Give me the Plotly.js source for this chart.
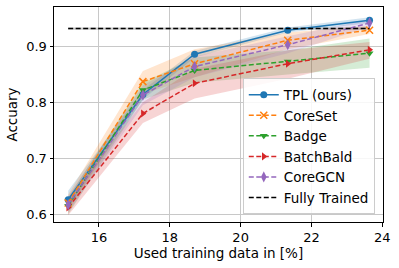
<!DOCTYPE html>
<html><head><meta charset="utf-8">
<script src="https://cdn.plot.ly/plotly-3.0.1.min.js"></script>
<style>html,body{margin:0;padding:0;background:#fff}#chart{width:399px;height:268px}</style>
</head><body><div id="chart"></div>
<script>
const xPct = [15.13, 17.24, 18.70, 21.33, 23.64];

const tplMean = [0.626, 0.814, 0.886, 0.929, 0.947];
const tplLo   = [0.612, 0.805, 0.880, 0.925, 0.942];
const tplHi   = [0.642, 0.822, 0.892, 0.934, 0.952];

const coresetMean = [0.620, 0.837, 0.869, 0.911, 0.929];
const coresetLo   = [0.605, 0.815, 0.845, 0.895, 0.922];
const coresetHi   = [0.635, 0.856, 0.895, 0.925, 0.937];

const badgeMean = [0.615, 0.822, 0.857, 0.873, 0.888];
const badgeLo   = [0.600, 0.805, 0.835, 0.850, 0.862];
const badgeHi   = [0.630, 0.835, 0.880, 0.893, 0.914];

const batchMean = [0.612, 0.780, 0.834, 0.869, 0.894];
const batchLo   = [0.598, 0.763, 0.807, 0.842, 0.878];
const batchHi   = [0.628, 0.800, 0.860, 0.893, 0.908];

const gcnMean = [0.617, 0.813, 0.864, 0.903, 0.942];
const gcnLo   = [0.603, 0.795, 0.845, 0.888, 0.935];
const gcnHi   = [0.632, 0.830, 0.882, 0.918, 0.948];

const fullX = [15.13, 23.64];
const fullMean = [0.932, 0.932];
const fullLo = [0.930, 0.930];
const fullHi = [0.934, 0.934];

const series = [
  {name:'TPL (ours)', mean:tplMean, lo:tplLo, hi:tplHi, color:'#1f77b4', fill:'rgba(31,119,180,0.2)', symbol:'circle', size:7, dash:'solid'},
  {name:'CoreSet', mean:coresetMean, lo:coresetLo, hi:coresetHi, color:'#ff7f0e', fill:'rgba(255,127,14,0.2)', symbol:'x-thin-open', size:7, dash:'5px,2.5px'},
  {name:'Badge', mean:badgeMean, lo:badgeLo, hi:badgeHi, color:'#2ca02c', fill:'rgba(44,160,44,0.2)', symbol:'triangle-down', size:7, dash:'5px,2.5px'},
  {name:'BatchBald', mean:batchMean, lo:batchLo, hi:batchHi, color:'#d62728', fill:'rgba(214,39,40,0.2)', symbol:'triangle-right', size:7, dash:'5px,2.5px'},
  {name:'CoreGCN', mean:gcnMean, lo:gcnLo, hi:gcnHi, color:'#9467bd', fill:'rgba(148,103,189,0.2)', symbol:'diamond-tall', size:8, dash:'5px,2.5px'}
];

const traces = [];
series.forEach(s => {
  traces.push({
    x: xPct.concat(xPct.slice().reverse()),
    y: s.hi.concat(s.lo.slice().reverse()),
    fill:'toself', fillcolor:s.fill, line:{width:0}, mode:'lines',
    showlegend:false, hoverinfo:'skip', type:'scatter'
  });
});
traces.push({
  x: fullX.concat(fullX.slice().reverse()),
  y: fullHi.concat(fullLo.slice().reverse()),
  fill:'toself', fillcolor:'rgba(0,0,0,0.2)', line:{width:0}, mode:'lines',
  showlegend:false, hoverinfo:'skip', type:'scatter'
});
series.forEach(s => {
  traces.push({
    x: xPct, y: s.mean, name: s.name, type:'scatter', mode:'lines+markers',
    line:{color:s.color, width:1.5, dash:s.dash},
    marker:{color:s.color, symbol:s.symbol, size:s.size, line:{color:s.color, width:s.symbol==='x-thin-open'?1.5:0}}
  });
});
traces.push({
  x: fullX, y: fullMean, name:'Fully Trained', type:'scatter', mode:'lines',
  line:{color:'#000', width:1.5, dash:'5px,2.5px'}
});

const font = {family:'DejaVu Sans', size:13, color:'#000'};
const layout = {
  width:399, height:268,
  margin:{l:54, r:16, t:7, b:46},
  paper_bgcolor:'#fff', plot_bgcolor:'#fff',
  font: font,
  showlegend:true,
  xaxis:{
    range:[14.73, 24.02], tickvals:[16,18,20,22,24], ticktext:['16','18','20','22','24'],
    showgrid:true, gridcolor:'#c8c8c8', gridwidth:1,
    ticks:'outside', ticklen:3.5, tickcolor:'#000',
    showline:true, linecolor:'#000', linewidth:1, mirror:true, zeroline:false,
    tickfont:{family:'DejaVu Sans', size:13, color:'#000'},
    title:{text:'Used training data in [%]', font:{family:'DejaVu Sans', size:13.5, color:'#000'}, standoff:3}
  },
  yaxis:{
    range:[0.586, 0.9705], tickvals:[0.6,0.7,0.8,0.9], ticktext:['0.6','0.7','0.8','0.9'],
    showgrid:true, gridcolor:'#c8c8c8', gridwidth:1,
    ticks:'outside', ticklen:3.5, tickcolor:'#000',
    showline:true, linecolor:'#000', linewidth:1, mirror:true, zeroline:false,
    tickfont:{family:'DejaVu Sans', size:13, color:'#000'},
    title:{text:'Accuary', font:{family:'DejaVu Sans', size:13.5, color:'#000'}, standoff:5}
  },
  legend:{
    x:0.975, y:0.035, xanchor:'right', yanchor:'bottom',
    bgcolor:'rgba(255,255,255,0.85)', bordercolor:'#cccccc', borderwidth:1,
    font:{family:'DejaVu Sans', size:13.5, color:'#000'},
    tracegroupgap:0, itemwidth:30
  }
};
Plotly.newPlot('chart', traces, layout, {displayModeBar:false, staticPlot:true});
</script></body></html>
